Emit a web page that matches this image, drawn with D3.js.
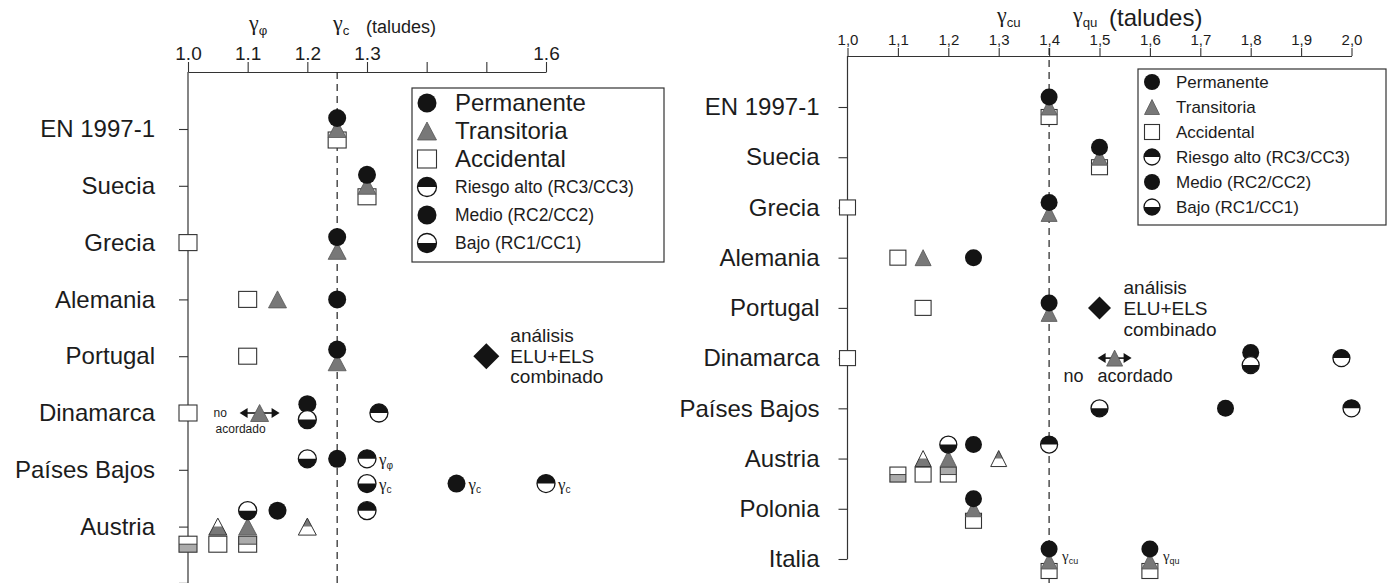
<!DOCTYPE html>
<html>
<head>
<meta charset="utf-8">
<script src="https://cdn.jsdelivr.net/npm/d3@7"></script>
<style>
  body { margin: 0; background: #fff; }
  svg { display: block; font-family: "Liberation Sans", Arial, sans-serif; }
</style>
</head>
<body>
<script>
const width = 1395;
const height = 583;

// ---- left panel: gamma_phi / gamma_c (taludes)
const catsL = ["EN 1997-1", "Suecia", "Grecia", "Alemania", "Portugal", "Dinamarca", "Países Bajos", "Austria"];
const ticksL = [1.0, 1.1, 1.2, 1.3, 1.4, 1.5, 1.6];
const tickLabelsL = ["1.0", "1.1", "1.2", "1.3", "", "", "1.6"];
const refL = 1.25;
// category, value, shape (c/t/s), risk class, stack level
const marksL = [
  ["EN 1997-1", 1.25, "s", "", 1], ["EN 1997-1", 1.25, "t", "", 0], ["EN 1997-1", 1.25, "c", "", -1],
  ["Suecia", 1.3, "s", "", 1], ["Suecia", 1.3, "t", "", 0], ["Suecia", 1.3, "c", "", -1],
  ["Grecia", 1.0, "s", "", 0], ["Grecia", 1.25, "t", "", 0.75], ["Grecia", 1.25, "c", "", -0.5],
  ["Alemania", 1.1, "s", "", 0], ["Alemania", 1.15, "t", "", 0], ["Alemania", 1.25, "c", "", 0],
  ["Portugal", 1.1, "s", "", 0], ["Portugal", 1.25, "t", "", 0.55], ["Portugal", 1.25, "c", "", -0.6],
  ["Dinamarca", 1.0, "s", "", 0], ["Dinamarca", 1.2, "c", "medio", -0.8], ["Dinamarca", 1.2, "c", "bajo", 0.6],
  ["Dinamarca", 1.32, "c", "alto", 0],
  ["Países Bajos", 1.2, "c", "bajo", -1], ["Países Bajos", 1.25, "c", "medio", -1], ["Países Bajos", 1.3, "c", "alto", -1],
  ["Países Bajos", 1.3, "c", "bajo", 1.25], ["Países Bajos", 1.45, "c", "medio", 1.25], ["Países Bajos", 1.6, "c", "alto", 1.25],
  ["Austria", 1.0, "s", "bajo", 1.6], ["Austria", 1.05, "s", "", 1.6], ["Austria", 1.1, "s", "alto", 1.6],
  ["Austria", 1.05, "t", "bajo", 0], ["Austria", 1.1, "t", "medio", 0], ["Austria", 1.2, "t", "alto", 0],
  ["Austria", 1.1, "c", "bajo", -1.45], ["Austria", 1.15, "c", "medio", -1.45], ["Austria", 1.3, "c", "alto", -1.45]
];
// gamma labels next to Dutch points
const gammaL = [
  ["Países Bajos", 1.3, -1, "φ"], ["Países Bajos", 1.3, 1.25, "c"],
  ["Países Bajos", 1.45, 1.25, "c"], ["Países Bajos", 1.6, 1.25, "c"]
];
const noAgreeL = ["Dinamarca", 1.12];
const comboL = ["Portugal", 1.5];

// ---- right panel: gamma_cu / gamma_qu (taludes)
const catsR = ["EN 1997-1", "Suecia", "Grecia", "Alemania", "Portugal", "Dinamarca", "Países Bajos", "Austria", "Polonia", "Italia"];
const ticksR = [1.0, 1.1, 1.2, 1.3, 1.4, 1.5, 1.6, 1.7, 1.8, 1.9, 2.0];
const refR = 1.4;
const marksR = [
  ["EN 1997-1", 1.4, "s", "", 1], ["EN 1997-1", 1.4, "t", "", 0], ["EN 1997-1", 1.4, "c", "", -1],
  ["Suecia", 1.5, "s", "", 1], ["Suecia", 1.5, "t", "", 0], ["Suecia", 1.5, "c", "", -1],
  ["Grecia", 1.0, "s", "", 0], ["Grecia", 1.4, "t", "", 0.6], ["Grecia", 1.4, "c", "", -0.5],
  ["Alemania", 1.1, "s", "", 0], ["Alemania", 1.15, "t", "", 0], ["Alemania", 1.25, "c", "", 0],
  ["Portugal", 1.15, "s", "", 0], ["Portugal", 1.4, "t", "", 0.55], ["Portugal", 1.4, "c", "", -0.5],
  ["Dinamarca", 1.0, "s", "", 0], ["Dinamarca", 1.8, "c", "medio", -0.55], ["Dinamarca", 1.8, "c", "bajo", 0.7],
  ["Dinamarca", 1.98, "c", "alto", 0],
  ["Países Bajos", 1.5, "c", "bajo", 0], ["Países Bajos", 1.75, "c", "medio", 0], ["Países Bajos", 2.0, "c", "alto", 0],
  ["Austria", 1.1, "s", "bajo", 1.6], ["Austria", 1.15, "s", "", 1.6], ["Austria", 1.2, "s", "alto", 1.6],
  ["Austria", 1.15, "t", "bajo", 0], ["Austria", 1.2, "t", "medio", 0], ["Austria", 1.3, "t", "alto", 0],
  ["Austria", 1.2, "c", "bajo", -1.4], ["Austria", 1.25, "c", "medio", -1.4], ["Austria", 1.4, "c", "alto", -1.4],
  ["Polonia", 1.25, "s", "", 1.2], ["Polonia", 1.25, "t", "", 0], ["Polonia", 1.25, "c", "", -1],
  ["Italia", 1.4, "s", "", 1.2], ["Italia", 1.4, "t", "", 0.2], ["Italia", 1.4, "c", "", -1],
  ["Italia", 1.6, "s", "", 1.2], ["Italia", 1.6, "t", "", 0.2], ["Italia", 1.6, "c", "", -1]
];
const gammaR = [["Italia", 1.4, 0, "cu"], ["Italia", 1.6, 0, "qu"]];
const noAgreeR = ["Dinamarca", 1.53];
const comboR = ["Portugal", 1.5];

// legend
const legendLabels = ["Permanente", "Transitoria", "Accidental", "Riesgo alto (RC3/CC3)", "Medio (RC2/CC2)", "Bajo (RC1/CC1)"];
const legendShapes = [["c", ""], ["t", ""], ["s", ""], ["c", "alto"], ["c", "medio"], ["c", "bajo"]];

const BLACK = "#141414", GRAY = "#787878", LIGHT = "#ababab", INK = "#1c1c1c";

const svg = d3.select("body").append("svg")
  .attr("width", width)
  .attr("height", height);

// draws one symbol centred at 0,0
function marker(g, shape, risk, sz) {
  if (shape == "c") {
    const r = sz.r;
    if (risk == "alto" || risk == "bajo") {
      g.append("circle").attr("r", r).attr("fill", "#fff");
      const sweep = risk == "alto" ? 1 : 0;
      g.append("path").attr("d", `M${-r},0A${r},${r} 0 0 ${sweep} ${r},0Z`).attr("fill", BLACK);
      g.append("circle").attr("r", r).attr("fill", "none").attr("stroke", BLACK).attr("stroke-width", 1.3);
    } else {
      g.append("circle").attr("r", r).attr("fill", BLACK);
    }
  } else if (shape == "t") {
    const w = sz.tw, h = sz.th;
    const full = `M0,${-h / 2}L${w / 2},${h / 2}L${-w / 2},${h / 2}Z`;
    if (risk == "alto" || risk == "bajo") {
      g.append("path").attr("d", full).attr("fill", "#fff");
      const part = risk == "alto"
        ? `M0,${-h / 2}L${w / 4},0L${-w / 4},0Z`
        : `M${-w / 4},0L${w / 4},0L${w / 2},${h / 2}L${-w / 2},${h / 2}Z`;
      g.append("path").attr("d", part).attr("fill", GRAY);
      g.append("path").attr("d", full).attr("fill", "none").attr("stroke", "#333").attr("stroke-width", 1);
    } else {
      g.append("path").attr("d", full).attr("fill", GRAY).attr("stroke", "#555").attr("stroke-width", 0.8);
    }
  } else {
    const a = sz.s, b = sz.sh || sz.s;
    g.append("rect").attr("x", -a / 2).attr("y", -b / 2).attr("width", a).attr("height", b).attr("fill", "#fff");
    if (risk == "alto" || risk == "bajo") {
      g.append("rect").attr("x", -a / 2).attr("y", risk == "alto" ? -b / 2 : 0)
        .attr("width", a).attr("height", b / 2).attr("fill", LIGHT);
      g.append("line").attr("x1", -a / 2).attr("x2", a / 2).attr("stroke", "#444").attr("stroke-width", 1);
    }
    g.append("rect").attr("x", -a / 2).attr("y", -b / 2).attr("width", a).attr("height", b)
      .attr("fill", "none").attr("stroke", "#333").attr("stroke-width", 1.1);
  }
}

function gammaText(parent, x, y, sub, size) {
  const t = parent.append("text").attr("x", x).attr("y", y).attr("fill", INK);
  t.append("tspan").text("γ").style("font-family", "'Liberation Serif', 'DejaVu Serif', serif").style("font-size", size + "px");
  t.append("tspan").text(sub).attr("dy", size * 0.22).style("font-size", (size * 0.6) + "px");
  return t;
}

function panel(cfg) {
  const g = svg.append("g");
  const x = d3.scaleLinear().domain(cfg.xDomain).range(cfg.xRange);
  const y = d3.scalePoint().domain(cfg.cats).range(cfg.yRange);
  const step = y.step();

  // top value axis
  const ax = g.append("g")
    .attr("transform", `translate(0,${cfg.axisY})`)
    .call(d3.axisTop(x).tickValues(cfg.ticks).tickFormat(cfg.tickFormat)
      .tickSize(cfg.tickLen).tickSizeOuter(0).tickPadding(cfg.tickPad));
  ax.select(".domain").attr("stroke", "#333").attr("stroke-width", 1.2);
  ax.selectAll(".tick line").attr("stroke", "#333").attr("stroke-width", 1.1);
  ax.selectAll(".tick text").attr("fill", INK).style("font-size", cfg.tickFont + "px")
    .style("font-family", "'Liberation Sans', Arial, sans-serif");

  // category axis
  const ay = g.append("g")
    .attr("transform", `translate(${x(cfg.xDomain[0])},0)`)
    .call(d3.axisLeft(y).tickSize(9).tickPadding(cfg.catPad));
  ay.select(".domain").remove();
  ay.selectAll(".tick line").attr("stroke", "#333").attr("stroke-width", 1.1);
  ay.selectAll(".tick text").attr("fill", INK).style("font-size", cfg.catFont + "px")
    .style("font-family", "'Liberation Sans', Arial, sans-serif");
  g.append("line")
    .attr("x1", x(cfg.xDomain[0])).attr("x2", x(cfg.xDomain[0]))
    .attr("y1", cfg.axisY).attr("y2", cfg.axisEnd)
    .attr("stroke", "#333").attr("stroke-width", 1.2);
  if (cfg.extraTick) {
    const yb = y(cfg.cats[cfg.cats.length - 1]) + step;
    g.append("line").attr("x1", x(cfg.xDomain[0]) - 9).attr("x2", x(cfg.xDomain[0]))
      .attr("y1", yb).attr("y2", yb).attr("stroke", "#333").attr("stroke-width", 1.1);
  }

  // reference dashed line
  g.append("line")
    .attr("x1", x(cfg.ref)).attr("x2", x(cfg.ref))
    .attr("y1", cfg.dashTop).attr("y2", height)
    .attr("stroke", "#222").attr("stroke-width", 1.2).attr("stroke-dasharray", "7,5");

  // header
  cfg.header(g, x);

  // combined ELU+ELS diamond
  const cx = x(cfg.combo[1]), cy = y(cfg.combo[0]);
  const d = cfg.diamond;
  g.append("path").attr("d", `M${cx},${cy - d}L${cx + d},${cy}L${cx},${cy + d}L${cx - d},${cy}Z`).attr("fill", BLACK);
  const ct = g.append("text").attr("fill", INK).style("font-size", cfg.comboFont + "px");
  ["análisis", "ELU+ELS", "combinado"].forEach((s, i) => {
    ct.append("tspan").attr("x", cx + cfg.comboDx).attr("y", cy + (i - 1) * cfg.comboLead + cfg.comboFont * 0.35).text(s);
  });

  // "no acordado" arrow
  const nx = x(cfg.noAgree[1]), ny = y(cfg.noAgree[0]);
  const al = cfg.arrow;
  g.append("line").attr("x1", nx - al + 6).attr("x2", nx + al - 6).attr("y1", ny).attr("y2", ny)
    .attr("stroke", BLACK).attr("stroke-width", 1.6);
  g.append("path").attr("d", `M${nx - al},${ny}l8,-5l0,10Z M${nx + al},${ny}l-8,-5l0,10Z`).attr("fill", BLACK);
  marker(g.append("g").attr("transform", `translate(${nx},${ny})`), "t", "", cfg.size);
  cfg.noAgreeText(g, nx, ny);

  // data symbols
  g.selectAll("g.mk").data(cfg.marks).join("g")
    .attr("class", "mk")
    .attr("transform", m => `translate(${x(m[1])},${y(m[0]) + m[4] * cfg.lane})`)
    .each(function (m) { marker(d3.select(this), m[2], m[3], cfg.size); });

  // gamma annotations
  cfg.gammas.forEach(a => {
    gammaText(g, x(a[1]) + cfg.gammaDx, y(a[0]) + a[2] * cfg.lane + cfg.gammaDy, a[3], cfg.gammaFont);
  });

  // legend
  const L = cfg.legend;
  const lg = g.append("g");
  lg.append("rect").attr("x", L.x).attr("y", L.y).attr("width", L.w).attr("height", L.h)
    .attr("fill", "#fff").attr("stroke", "#333").attr("stroke-width", 1.2);
  legendLabels.forEach((lab, i) => {
    const yy = L.y0 + i * L.step;
    marker(lg.append("g").attr("transform", `translate(${L.sx},${yy})`), legendShapes[i][0], legendShapes[i][1], L.size);
    lg.append("text").attr("x", L.tx).attr("y", yy).attr("dy", "0.35em").attr("fill", INK)
      .style("font-size", L.font(i) + "px").text(lab);
  });
}

panel({
  xDomain: [1.0, 1.6], xRange: [188, 546],
  cats: catsL, yRange: [129, 526.6], axisY: 72, axisEnd: height, extraTick: true,
  ticks: ticksL, tickFormat: (v, i) => tickLabelsL[i], tickLen: 10, tickPad: 2, tickFont: 19,
  catPad: 24, catFont: 24, ref: refL, dashTop: 72, lane: 11,
  size: { r: 9, tw: 18, th: 17, s: 18, sh: 16 },
  marks: marksL, gammas: gammaL, gammaDx: 12, gammaDy: 6, gammaFont: 17,
  combo: comboL, diamond: 13, comboDx: 24, comboLead: 20.5, comboFont: 19,
  noAgree: noAgreeL, arrow: 20,
  noAgreeText: (g, nx, ny) => {
    g.append("text").attr("x", nx - 46).attr("y", ny + 4).attr("fill", INK).style("font-size", "12px").text("no");
    g.append("text").attr("x", nx - 44).attr("y", ny + 20).attr("fill", INK).style("font-size", "12px").text("acordado");
  },
  header: (g, x) => {
    gammaText(g, 249, 30, "φ", 22);
    gammaText(g, 333, 30, "c", 22);
    g.append("text").attr("x", 366).attr("y", 33).attr("fill", INK).style("font-size", "18px").text("(taludes)");
  },
  legend: {
    x: 412, y: 88, w: 252, h: 174, y0: 103, step: 28, sx: 427, tx: 455,
    size: { r: 9.5, tw: 19, th: 18, s: 19, sh: 18 },
    font: i => (i < 3 ? 24 : 17.5)
  }
});

panel({
  xDomain: [1.0, 2.0], xRange: [847.5, 1351.5],
  cats: catsR, yRange: [107, 559], axisY: 56, axisEnd: 559, extraTick: false,
  ticks: ticksR, tickFormat: v => v.toFixed(1).replace(".", ","), tickLen: 8, tickPad: 3, tickFont: 15,
  catPad: 19, catFont: 24, ref: refR, dashTop: 48, lane: 10,
  size: { r: 8.5, tw: 16, th: 16, s: 16, sh: 15 },
  marks: marksR, gammas: gammaR, gammaDx: 13, gammaDy: 2, gammaFont: 15,
  combo: comboR, diamond: 11.5, comboDx: 24, comboLead: 21, comboFont: 19,
  noAgree: noAgreeR, arrow: 17,
  noAgreeText: (g, nx, ny) => {
    g.append("text").attr("x", nx - 51).attr("y", ny + 24).attr("fill", INK).style("font-size", "18px").text("no");
    g.append("text").attr("x", nx - 17).attr("y", ny + 24).attr("fill", INK).style("font-size", "18px").text("acordado");
  },
  header: (g, x) => {
    gammaText(g, 997, 22, "cu", 22);
    gammaText(g, 1073, 22, "qu", 22);
    g.append("text").attr("x", 1109).attr("y", 26).attr("fill", INK).style("font-size", "24px").text("(taludes)");
  },
  legend: {
    x: 1138, y: 69, w: 248, h: 156, y0: 82, step: 25, sx: 1152, tx: 1176,
    size: { r: 8, tw: 15, th: 15, s: 15, sh: 15 },
    font: i => 17
  }
});
</script>
</body>
</html>
